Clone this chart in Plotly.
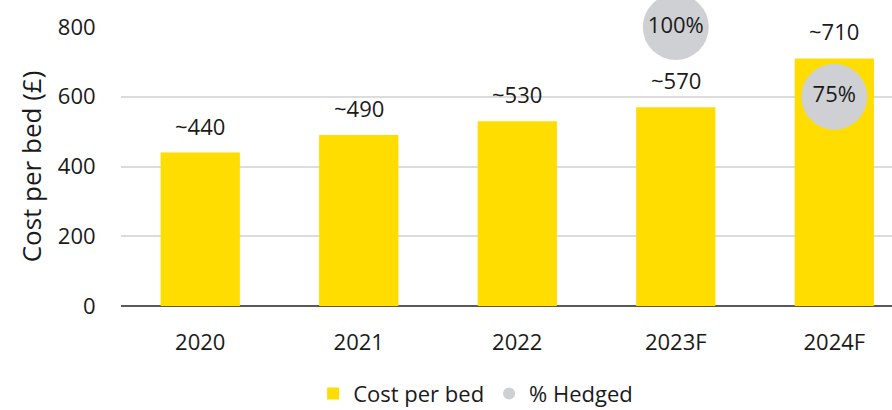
import plotly.graph_objects as go

# Cost per bed by year, with the hedged share for the forecast years
years = ["2020", "2021", "2022", "2023F", "2024F"]
cost_per_bed = [440, 490, 530, 570, 710]
cost_labels = ["~440", "~490", "~530", "~570", "~710"]

hedged_years = ["2023F", "2024F"]
hedged_pct = [100, 75]
hedged_labels = ["100%", "75%"]

FONT = "Open Sans"
YELLOW = "#FFDD00"
GREY = "#CFD0D4"
INK = "#1a1a1a"
SIZE = 22

fig = go.Figure()

fig.add_trace(go.Bar(
    x=years, y=cost_per_bed, name="Cost per bed",
    marker=dict(color=YELLOW, line=dict(width=0)),
    width=0.5, yaxis="y",
))

fig.add_trace(go.Scatter(
    x=hedged_years, y=hedged_pct, name="% Hedged",
    mode="markers+text", text=hedged_labels, textposition="middle center",
    textfont=dict(family=FONT, size=SIZE, color=INK),
    marker=dict(color=GREY, size=66, line=dict(width=0)),
    cliponaxis=False, yaxis="y2",
))

# value labels above each bar (positioned by category index)
for i, (v, lab) in enumerate(zip(cost_per_bed, cost_labels)):
    fig.add_annotation(
        x=i, y=v, text=lab, showarrow=False, xref="x", yref="y",
        yanchor="bottom", yshift=10,
        font=dict(family=FONT, size=SIZE, color=INK),
    )

fig.update_layout(
    width=892, height=410,
    margin=dict(l=121, r=0, t=27, b=104),
    paper_bgcolor="white", plot_bgcolor="white",
    font=dict(family=FONT, size=SIZE, color=INK),
    bargap=0.5,
    xaxis=dict(
        type="category", range=[-0.5, 4.364], automargin=False,
        showgrid=False, showline=False,
        ticks="outside", ticklen=17, tickcolor="rgba(0,0,0,0)",
        tickfont=dict(family=FONT, size=SIZE, color=INK),
    ),
    yaxis=dict(
        range=[0, 800], dtick=200, showgrid=True, automargin=False,
        gridcolor="#DCDCDC", gridwidth=1.5,
        zeroline=True, zerolinecolor="#595959", zerolinewidth=1.5,
        showline=False,
        ticks="outside", ticklen=20, tickcolor="rgba(0,0,0,0)",
        tickfont=dict(family=FONT, size=SIZE, color=INK),
        title=dict(text="Cost per bed (£)", standoff=8,
                   font=dict(family=FONT, size=26, color=INK)),
    ),
    yaxis2=dict(
        range=[0, 100], overlaying="y", side="right",
        visible=False, showgrid=False,
    ),
    showlegend=True,
    legend=dict(
        orientation="h", x=0.46, xanchor="center",
        yref="container", y=0.04, yanchor="middle",
        font=dict(family=FONT, size=SIZE, color=INK),
        itemsizing="constant", traceorder="normal",
    ),
)

fig.write_html("out.html")
